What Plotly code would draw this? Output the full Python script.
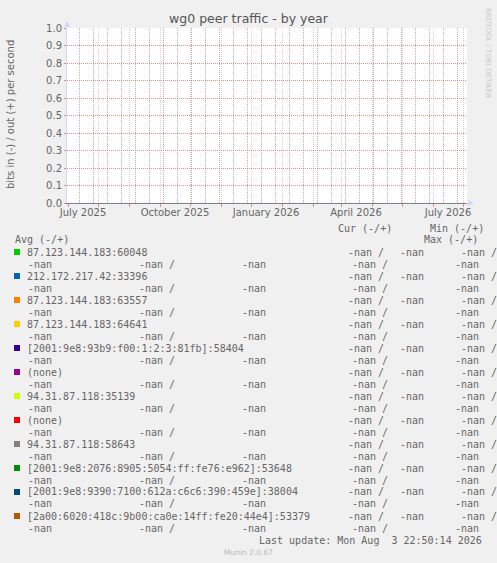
import plotly.graph_objects as go
import pandas as pd

NAN = float("nan")

# --- data ---------------------------------------------------------------
peers = [
    "87.123.144.183:60048",
    "212.172.217.42:33396",
    "87.123.144.183:63557",
    "87.123.144.183:64641",
    "[2001:9e8:93b9:f00:1:2:3:81fb]:58404",
    "(none)",
    "94.31.87.118:35139",
    "(none)",
    "94.31.87.118:58643",
    "[2001:9e8:2076:8905:5054:ff:fe76:e962]:53648",
    "[2001:9e8:9390:7100:612a:c6c6:390:459e]:38004",
    "[2a00:6020:418c:9b00:ca0e:14ff:fe20:44e4]:53379",
]
# every peer reports nan for all fields
cur_in = [NAN] * 12
cur_out = [NAN] * 12
min_in = [NAN] * 12
min_out = [NAN] * 12
avg_in = [NAN] * 12
avg_out = [NAN] * 12
max_in = [NAN] * 12
max_out = [NAN] * 12

sample_dates = ["2025-05-31", "2026-07-05"]
sample_values = [NAN, NAN]

tick_dates = ["2025-06-16", "2025-09-16", "2025-12-16", "2026-03-16", "2026-06-16"]
tick_labels = ["July 2025", "October 2025", "January 2026", "April 2026", "July 2026"]

title = "wg0 peer traffic - by year"
y_title = "bits in (-) / out (+) per second"
last_update = "Last update: Mon Aug  3 22:50:14 2026"

# --- style --------------------------------------------------------------
peer_colors = ["#00CC00", "#0066B3", "#FF8000", "#FFCC00", "#330099", "#990099",
               "#CCFF00", "#FF0000", "#808080", "#008F00", "#00487D", "#B35A00"]

W, H = 497, 563
PL, PR, PT, PB = 67, 467, 28, 203
FONT = "#666666"
MGRID_X = "rgba(230,120,120,0.42)"
MGRID_Y = "rgba(225,100,100,0.75)"
GRID = "rgba(150,150,150,0.75)"
AXIS = "#CFD6F8"
MONO = "DejaVu Sans Mono"
SANS = "DejaVu Sans"

x_range = ["2025-05-31", "2026-07-05"]
month_starts = list(pd.date_range("2025-06-01", "2026-07-01", freq="MS"))
two_weeks = list(pd.date_range("2025-06-12", "2026-07-01", freq="14D"))


def px(x):
    return (x - PL) / (PR - PL)


def py(y):
    return (PB - y) / (PB - PT)


def fmt(v):
    return "-nan" if v != v else "%.2f" % v


fig = go.Figure()
for name, col in zip(peers, peer_colors):
    fig.add_trace(go.Scatter(x=sample_dates, y=sample_values, name=name,
                             mode="lines", line=dict(color=col, width=1),
                             showlegend=False))
# carrier for the label axis
fig.add_trace(go.Scatter(x=sample_dates, y=sample_values, xaxis="x2",
                         mode="lines", showlegend=False, hoverinfo="skip"))

ann = []


def txt(x, y, s, size=10, family=MONO, color=FONT, anchor="left", **kw):
    ann.append(dict(x=px(x), y=py(y), xref="paper", yref="paper", text=s,
                    showarrow=False, xanchor=anchor, yanchor="middle",
                    borderpad=0, font=dict(family=family, size=size, color=color), **kw))


# legend headers
txt(337, 228, "Cur (-/+)")
txt(429, 228, "Min (-/+)")
txt(14, 239, "Avg (-/+)")
txt(423, 239, "Max (-/+)")

shapes = []
for i, name in enumerate(peers):
    y1 = 252 + 24 * i
    y2 = y1 + 12
    shapes.append(dict(type="rect", xref="paper", yref="paper",
                       x0=px(14), x1=px(20), y0=py(y1 - 3), y1=py(y1 + 3),
                       fillcolor=peer_colors[i], line=dict(width=0)))
    txt(26, y1, name)
    txt(347, y1, fmt(cur_in[i]) + " /")
    txt(399, y1, fmt(cur_out[i]))
    txt(460, y1, fmt(min_in[i]) + " /")
    txt(27, y2, fmt(min_out[i]))
    txt(138, y2, fmt(avg_in[i]) + " /")
    txt(241, y2, fmt(avg_out[i]))
    txt(351, y2, fmt(max_in[i]) + " /")
    txt(454, y2, fmt(max_out[i]))

txt(483, 540, last_update, anchor="right")
txt(248, 552, "Munin 2.0.67", size=7.5, family=SANS, color="#b8b8b8", anchor="center")
txt(488, 53, "RRDTOOL / TOBI OETIKER", size=7, family=SANS, color="#c8c8c8",
    anchor="center", textangle=90)
txt(10, 115, y_title, size=10, family=SANS, anchor="center", textangle=-90)

# axis arrows
shapes.append(dict(type="path", xref="paper", yref="paper",
                   path="M %f %f L %f %f L %f %f Z" % (px(64), py(27), px(67), py(21), px(70), py(27)),
                   fillcolor=AXIS, line=dict(width=0)))
shapes.append(dict(type="path", xref="paper", yref="paper",
                   path="M %f %f L %f %f L %f %f Z" % (px(468), py(200), px(474), py(203), px(468), py(206)),
                   fillcolor=AXIS, line=dict(width=0)))

fig.update_layout(
    width=W, height=H,
    margin=dict(l=PL, r=W - PR, t=PT, b=H - PB, pad=0),
    paper_bgcolor="#F0F0F0",
    plot_bgcolor="#FFFFFF",
    title=dict(text=title, x=0.5, xref="container", xanchor="center",
               y=1 - 19 / H, yref="container", yanchor="middle",
               font=dict(family=SANS, size=12.5, color="#555555")),
    annotations=ann,
    shapes=shapes,
    showlegend=False,
    xaxis=dict(type="date", range=x_range, tickmode="array", tickvals=month_starts,
               showticklabels=False, showgrid=True, gridcolor=MGRID_X, griddash="1px,1px",
               gridwidth=1, ticks="outside", ticklen=3, tickcolor=MGRID_Y,
               showline=True, linecolor="#7f7f8f", linewidth=1, zeroline=False,
               minor=dict(tickmode="array", tickvals=two_weeks, showgrid=True,
                          gridcolor=GRID, griddash="1px,1px", ticks="")),
    xaxis2=dict(type="date", range=x_range, overlaying="x", anchor="y", side="bottom",
                tickmode="array", tickvals=tick_dates, ticktext=tick_labels,
                showgrid=False, ticks="", showline=False, zeroline=False,
                ticklabelstandoff=2,
                tickfont=dict(family=SANS, size=10, color=FONT)),
    yaxis=dict(range=[0, 1], tickmode="array", tickvals=[i / 10 for i in range(11)],
               tickformat=".1f", showgrid=True, gridcolor=MGRID_Y, griddash="1px,1px",
               ticks="outside", ticklen=2, tickcolor=MGRID_Y, zeroline=False,
               showline=True, linecolor=AXIS, linewidth=1,
               tickfont=dict(family=SANS, size=10, color=FONT)),
)

# drop the default page margin so the figure sits at the window corner
fig.write_html("out.html", config={"displayModeBar": False},
               post_script="document.body.style.margin='0';")
